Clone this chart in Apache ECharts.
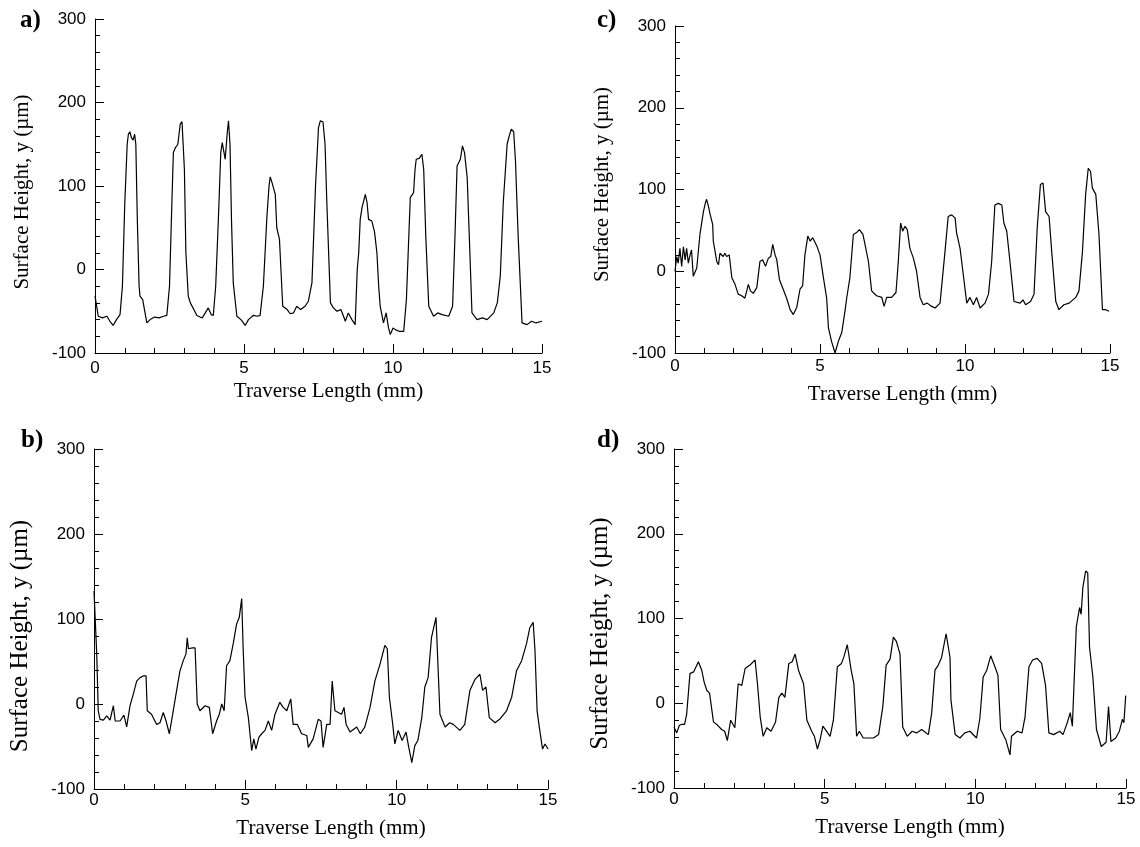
<!DOCTYPE html>
<html>
<head>
<meta charset="utf-8">
<script src="https://cdn.jsdelivr.net/npm/echarts@6/dist/echarts.min.js"></script>
<style>
html,body{margin:0;padding:0;background:#fff;}
#chart{width:1140px;height:847px;}
</style>
</head>
<body>
<div id="chart"></div>
<script>
// ---------- DATA ----------
const panelLabels = ['a)', 'b)', 'c)', 'd)'];
const xAxisTitle = 'Traverse Length (mm)';
const yAxisTitle = 'Surface Height, y (µm)';

// Panel a
const aX = [0,0.11,0.25,0.4,0.5,0.61,0.72,0.84,0.92,1.0,1.08,1.12,1.17,1.22,1.28,1.33,1.37,1.42,1.48,1.51,1.6,1.74,1.85,2.0,2.15,2.3,2.41,2.5,2.58,2.63,2.7,2.78,2.86,2.92,2.98,3.0,3.05,3.13,3.2,3.42,3.6,3.7,3.8,3.9,3.97,4.05,4.14,4.22,4.27,4.37,4.44,4.48,4.53,4.58,4.64,4.76,4.9,5.04,5.15,5.31,5.45,5.54,5.65,5.77,5.84,5.88,5.94,5.99,6.05,6.1,6.19,6.3,6.45,6.55,6.66,6.77,6.9,7.05,7.16,7.28,7.4,7.5,7.56,7.65,7.72,7.78,7.9,8.0,8.12,8.25,8.33,8.4,8.5,8.62,8.73,8.8,8.85,8.9,8.96,9.07,9.13,9.18,9.29,9.38,9.46,9.52,9.57,9.68,9.77,9.85,9.91,10.0,10.08,10.2,10.36,10.45,10.52,10.58,10.69,10.74,10.78,10.88,10.97,11.03,11.1,11.2,11.36,11.5,11.65,11.87,12.0,12.08,12.15,12.26,12.33,12.4,12.49,12.58,12.65,12.82,13.0,13.16,13.38,13.5,13.6,13.7,13.83,13.9,13.97,14.05,14.11,14.2,14.33,14.5,14.65,14.8,15.0];
const aY = [-32,-56,-58,-56,-62,-67,-60,-54,-20,80,150,162,165,158,155,162,150,60,-20,-32,-36,-64,-60,-57,-58,-56,-55,-20,80,140,146,150,174,177,175,120,20,-32,-40,-55,-58,-52,-46,-54,-55,-20,60,140,152,132,165,178,150,60,-16,-56,-60,-67,-60,-55,-56,-55,-20,64,100,111,104,104,90,50,36,-44,-48,-53,-52,-44,-48,-44,-38,-16,100,170,178,177,150,80,-40,-46,-50,-48,-55,-62,-52,-60,-66,0,20,60,74,90,80,60,58,45,20,-20,-44,-64,-52,-70,-78,-70,-72,-74,-74,-36,30,86,92,120,132,133,138,120,40,-44,-56,-52,-54,-56,-44,40,124,132,148,140,110,20,-52,-60,-58,-60,-52,-40,-8,80,150,160,168,165,130,40,-64,-66,-62,-64,-62];

// Panel b
const bX = [0,0.09,0.14,0.2,0.31,0.42,0.53,0.64,0.7,0.86,0.99,1.08,1.19,1.3,1.41,1.52,1.63,1.72,1.76,1.9,2.07,2.18,2.29,2.38,2.49,2.6,2.73,2.84,2.95,3.04,3.08,3.12,3.25,3.34,3.41,3.5,3.67,3.81,3.92,4.05,4.14,4.22,4.3,4.38,4.49,4.6,4.71,4.8,4.88,4.93,4.99,5.1,5.21,5.28,5.35,5.45,5.54,5.65,5.76,5.87,5.98,6.14,6.25,6.37,6.5,6.58,6.72,6.86,7.03,7.08,7.24,7.41,7.5,7.57,7.69,7.8,7.87,7.96,8.07,8.18,8.26,8.33,8.46,8.68,8.8,8.95,9.12,9.28,9.45,9.61,9.69,9.76,9.87,9.94,10.05,10.18,10.31,10.4,10.5,10.6,10.7,10.83,10.93,11.04,11.15,11.3,11.43,11.6,11.75,11.87,12.09,12.25,12.42,12.59,12.75,12.84,12.95,13.06,13.25,13.4,13.63,13.8,13.96,14.13,14.29,14.4,14.51,14.57,14.64,14.7,14.82,14.9,15.0];
const bY = [133,59,-8,-18,-19,-14,-19,-2,-20,-20,-13,-27,-2,12,27,31,33,33,-8,-12,-24,-22,-10,-20,-35,-12,16,39,51,59,78,65,66,66,0,-8,-2,-4,-35,-20,-12,0,-8,45,51,71,94,102,124,63,8,-16,-55,-41,-53,-39,-35,-31,-20,-31,-12,2,-4,-8,6,-24,-24,-35,-37,-51,-41,-18,-20,-51,-24,-24,27,-8,-10,-12,-4,-24,-33,-27,-35,-27,-4,27,47,69,65,8,-24,-47,-31,-43,-33,-51,-69,-49,-43,-16,20,31,78,102,-12,-27,-22,-24,-31,-24,16,29,35,16,20,-16,-22,-18,-8,8,39,51,71,90,96,63,-8,-24,-53,-47,-53];

// Panel c
const cX = [0,0.06,0.11,0.17,0.23,0.29,0.35,0.4,0.46,0.52,0.57,0.63,0.75,0.86,0.98,1.05,1.09,1.15,1.21,1.3,1.32,1.44,1.5,1.55,1.66,1.72,1.78,1.87,1.96,2.07,2.18,2.3,2.41,2.53,2.6,2.7,2.82,2.93,3.02,3.12,3.22,3.3,3.37,3.45,3.51,3.6,3.73,3.85,3.97,4.08,4.2,4.31,4.4,4.48,4.58,4.66,4.75,4.89,5.0,5.11,5.23,5.29,5.4,5.52,5.58,5.63,5.75,5.86,5.92,6.03,6.15,6.25,6.36,6.48,6.59,6.67,6.78,6.95,7.13,7.21,7.3,7.47,7.62,7.7,7.78,7.85,7.93,8.01,8.1,8.22,8.33,8.45,8.56,8.7,8.85,8.97,9.14,9.31,9.42,9.54,9.66,9.71,9.83,9.94,10.06,10.17,10.29,10.4,10.52,10.69,10.81,10.92,11.03,11.15,11.27,11.34,11.44,11.55,11.69,11.9,12.0,12.09,12.26,12.38,12.49,12.6,12.69,12.78,12.9,12.99,13.13,13.24,13.41,13.59,13.82,13.93,14.05,14.16,14.25,14.33,14.39,14.51,14.62,14.74,14.85,14.97];
const cY = [0,18,10,28,6,30,14,28,10,20,26,-6,4,45,73,84,88,80,70,57,37,12,8,22,18,22,18,20,-8,-16,-28,-30,-33,-16,-24,-27,-20,12,14,6,16,18,33,20,14,-10,-22,-33,-47,-53,-44,-22,-18,20,43,37,41,31,20,-6,-33,-69,-86,-100,-100,-86,-75,-49,-33,-8,45,47,51,45,26,12,-24,-30,-32,-43,-32,-32,-26,12,59,49,55,51,28,16,0,-32,-41,-39,-43,-45,-39,24,67,69,65,47,28,-4,-39,-32,-41,-32,-45,-39,-28,12,81,83,81,59,49,12,-37,-39,-35,-41,-37,-28,53,106,108,73,67,24,-37,-47,-41,-39,-32,-24,24,94,126,122,102,94,45,-47,-47,-49];

// Panel d
const dX = [0,0.09,0.18,0.25,0.35,0.42,0.53,0.65,0.81,0.92,1.0,1.09,1.18,1.31,1.45,1.58,1.68,1.77,1.88,2.02,2.13,2.25,2.36,2.52,2.69,2.77,2.86,2.96,3.08,3.22,3.37,3.48,3.58,3.68,3.81,3.92,4.02,4.13,4.3,4.41,4.57,4.66,4.76,4.85,4.94,5.06,5.18,5.29,5.42,5.56,5.64,5.75,5.88,5.97,6.06,6.15,6.28,6.45,6.62,6.79,6.93,7.04,7.17,7.28,7.38,7.5,7.59,7.74,7.9,8.05,8.22,8.44,8.55,8.66,8.77,8.88,9.03,9.16,9.19,9.33,9.49,9.65,9.82,10.04,10.15,10.26,10.38,10.51,10.65,10.75,10.84,11.01,11.15,11.2,11.39,11.55,11.65,11.78,11.9,12.05,12.2,12.33,12.44,12.6,12.8,12.91,13.04,13.15,13.22,13.35,13.46,13.51,13.57,13.66,13.73,13.79,13.9,14.02,14.18,14.34,14.42,14.5,14.66,14.78,14.88,14.93,14.99];
const dY = [-28,-35,-26,-25,-25,-13,35,37,49,39,25,15,12,-22,-26,-31,-33,-44,-20,-29,23,21,41,45,51,23,-16,-39,-29,-33,-22,7,12,7,47,49,58,39,23,-20,-33,-39,-54,-43,-27,-33,-39,-20,43,47,55,69,39,23,-39,-33,-41,-41,-41,-37,-4,45,52,78,73,58,-28,-39,-33,-35,-31,-37,-12,39,45,54,82,54,4,-37,-41,-35,-33,-41,-18,31,39,56,43,33,-31,-43,-61,-39,-33,-35,-16,43,51,53,47,21,-35,-37,-33,-37,-24,-11,-27,90,113,105,137,156,154,66,31,-31,-51,-46,-4,-45,-41,-33,-19,-23,9];

// ---------- CHART ----------
const zip = (xs, ys) => xs.map((x, i) => [x, ys[i]]);
const panels = [
  {label: panelLabels[0], xs: aX, ys: aY, grid: {left: 95, top: 19, width: 447, height: 334}, lab: {left: 20, top: 8}, xMargin: 7, xGap: 28, yGap: 62, yFont: 21, yPad: [0, 12, 0, 0]},
  {label: panelLabels[2], xs: cX, ys: cY, grid: {left: 675, top: 26, width: 435, height: 327}, lab: {left: 597, top: 8}, xMargin: 5, xGap: 31, yGap: 62, yFont: 21, yPad: [0, 0, 0, 10]},
  {label: panelLabels[1], xs: bX, ys: bY, grid: {left: 94, top: 449, width: 454, height: 340}, lab: {left: 21, top: 428}, xMargin: 3, xGap: 29, yGap: 61, yFont: 25, yPad: [0, 34, 0, 0]},
  {label: panelLabels[3], xs: dX, ys: dY, grid: {left: 674, top: 449, width: 452, height: 339}, lab: {left: 597, top: 428}, xMargin: 3, xGap: 29, yGap: 61, yFont: 25, yPad: [0, 30, 0, 0]}
];

const sans = 'Liberation Sans, Arial, Helvetica, sans-serif';
const serif = 'Liberation Serif, Times New Roman, serif';
const black = '#000';

const option = {
  animation: false,
  backgroundColor: '#fff',
  title: panels.map(p => ({
    text: p.label, left: p.lab.left, top: p.lab.top, padding: 0,
    textStyle: {fontFamily: serif, fontWeight: 'bold', fontSize: 25, color: black}
  })),
  grid: panels.map(p => Object.assign({containLabel: false}, p.grid)),
  xAxis: panels.map((p, i) => ({
    type: 'value', gridIndex: i, min: 0, max: 15, interval: 5,
    name: xAxisTitle, nameLocation: 'middle', nameGap: p.xGap,
    nameTextStyle: {fontFamily: serif, fontSize: 21, color: black, padding: [0, 0, 0, 20]},
    axisLine: {show: true, onZero: false, lineStyle: {color: black, width: 1}},
    axisTick: {show: true, inside: true, length: 9, lineStyle: {color: black, width: 1}},
    minorTick: {show: true, splitNumber: 5, length: 5, lineStyle: {color: black, width: 1}},
    splitLine: {show: false}, minorSplitLine: {show: false},
    axisLabel: {fontFamily: sans, fontSize: 17, color: black, margin: p.xMargin}
  })),
  yAxis: panels.map((p, i) => ({
    type: 'value', gridIndex: i, min: -100, max: 300, interval: 100,
    name: yAxisTitle, nameLocation: 'middle', nameGap: p.yGap,
    nameTextStyle: {fontFamily: serif, fontSize: p.yFont, color: black, padding: p.yPad},
    axisLine: {show: true, onZero: false, lineStyle: {color: black, width: 1}},
    axisTick: {show: true, inside: true, length: 9, lineStyle: {color: black, width: 1}},
    minorTick: {show: true, splitNumber: 5, length: 5, lineStyle: {color: black, width: 1}},
    splitLine: {show: false}, minorSplitLine: {show: false},
    axisLabel: {fontFamily: sans, fontSize: 17, color: black, margin: 9}
  })),
  series: panels.map((p, i) => ({
    type: 'line', xAxisIndex: i, yAxisIndex: i,
    data: zip(p.xs, p.ys),
    showSymbol: false, symbol: 'none', smooth: false,
    lineStyle: {color: black, width: 1.2},
    clip: true
  }))
};

const chart = echarts.init(document.getElementById('chart'), null, {renderer: 'canvas'});
chart.setOption(option);
</script>
</body>
</html>
